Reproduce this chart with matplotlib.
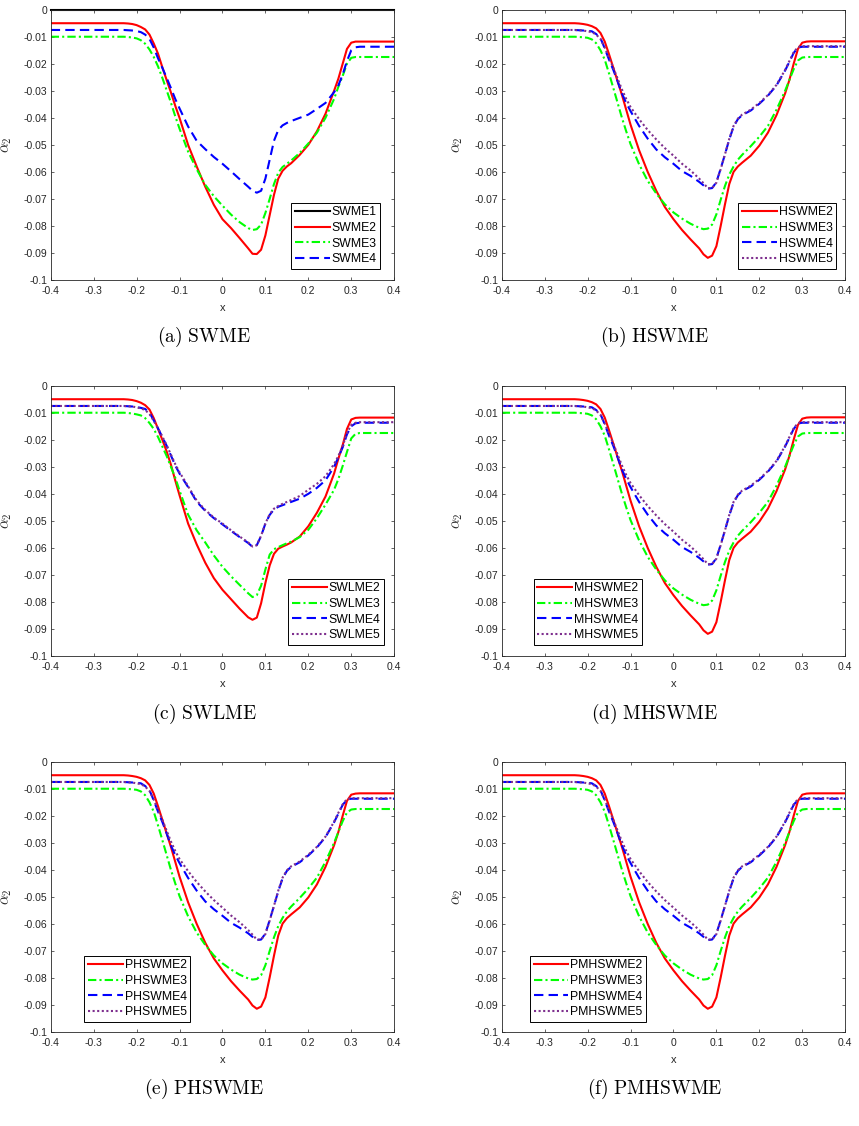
import numpy as np
import matplotlib
matplotlib.use('Agg')
import matplotlib.pyplot as plt

plt.rcParams['font.family'] = ['Liberation Sans', 'DejaVu Sans']
plt.rcParams['mathtext.fontset'] = 'cm'
plt.rcParams['axes.unicode_minus'] = False

xg = [-0.4, -0.25, -0.23, -0.22, -0.21, -0.2, -0.19, -0.18, -0.17, -0.16,
      -0.15, -0.14, -0.13, -0.12, -0.11, -0.1, -0.08, -0.06, -0.04, -0.02,
      0.0, 0.02, 0.04, 0.06, 0.07, 0.08, 0.09, 0.1, 0.11, 0.12,
      0.13, 0.14, 0.15, 0.16, 0.18, 0.2, 0.22, 0.24, 0.26, 0.27,
      0.28, 0.29, 0.3, 0.31, 0.32, 0.4]

# alpha_2 values below are in units of 1e-3
# (a) SWME
swme1_x = [-0.4, 0.4]
swme1 = [0.0, 0.0]
swme2 = [-5.0, -5.0, -5.0, -5.1, -5.3, -5.7, -6.4, -7.3, -9.2, -12.5,
         -16.3, -21.3, -26.0, -30.6, -35.5, -40.0, -50.0, -58.0, -65.5, -72.2,
         -77.5, -80.8, -84.5, -88.3, -90.3, -90.4, -88.8, -83.5, -76.0, -68.5,
         -62.5, -59.6, -58.0, -56.8, -53.7, -50.0, -45.0, -38.5, -30.0, -25.5,
         -20.0, -14.5, -12.2, -11.8, -11.8, -11.8]
swme3 = [-10.0, -10.0, -10.0, -10.1, -10.3, -10.6, -11.3, -12.6, -14.7, -17.5,
         -21.0, -25.2, -29.8, -34.4, -39.4, -44.0, -52.5, -59.0, -64.8, -69.0,
         -72.5, -75.8, -78.6, -80.8, -81.5, -81.2, -79.5, -75.2, -70.0, -64.5,
         -60.3, -58.2, -57.0, -55.8, -53.0, -49.5, -45.5, -40.0, -33.0, -28.5,
         -24.5, -20.0, -17.8, -17.5, -17.5, -17.5]
swme4 = [-7.5, -7.5, -7.5, -7.6, -7.7, -7.9, -8.3, -9.2, -10.8, -14.0,
         -18.0, -21.5, -25.2, -29.0, -33.0, -36.5, -43.2, -48.5, -51.6, -54.5,
         -57.0, -59.8, -62.7, -65.5, -67.0, -67.7, -67.0, -62.5, -55.5, -48.5,
         -44.5, -42.8, -41.9, -41.2, -40.0, -38.8, -36.7, -34.5, -30.5, -28.0,
         -24.0, -19.0, -15.0, -13.9, -13.7, -13.7]

# (b) HSWME
hswme2 = [-5.0, -5.0, -5.0, -5.1, -5.3, -5.6, -6.1, -6.9, -8.6, -11.8,
          -16.5, -21.5, -26.5, -31.5, -37.0, -42.5, -52.0, -60.0, -67.0, -73.0,
          -77.5, -81.5, -85.0, -88.3, -90.5, -91.8, -91.0, -87.5, -80.0, -72.0,
          -64.5, -60.0, -58.0, -56.6, -54.0, -50.3, -45.5, -39.0, -31.0, -26.0,
          -20.0, -14.5, -12.2, -11.8, -11.7, -11.7]
hswme3 = [-10.0, -10.0, -10.0, -10.1, -10.2, -10.4, -11.0, -12.4, -15.0, -18.5,
          -23.6, -29.0, -34.5, -40.0, -45.0, -49.7, -57.2, -63.3, -68.0, -72.0,
          -75.0, -77.3, -79.2, -80.7, -81.2, -81.0, -79.5, -75.7, -70.3, -65.2,
          -61.0, -58.0, -55.5, -53.7, -50.5, -47.0, -43.0, -37.0, -30.0, -26.0,
          -22.0, -18.8, -17.7, -17.5, -17.5, -17.5]
hswme4 = [-7.5, -7.5, -7.5, -7.6, -7.7, -7.8, -8.0, -9.0, -10.5, -14.3,
          -18.5, -22.3, -26.5, -31.0, -34.5, -37.5, -43.0, -47.7, -51.7, -54.6,
          -57.0, -59.7, -61.5, -63.7, -65.0, -66.2, -66.0, -63.8, -58.8, -53.5,
          -48.0, -43.3, -40.5, -39.0, -37.3, -34.8, -31.8, -28.0, -22.5, -19.3,
          -16.0, -14.0, -13.7, -13.7, -13.7, -13.7]
hswme5 = [-7.5, -7.5, -7.5, -7.6, -7.7, -8.0, -8.3, -9.2, -10.8, -14.0,
          -17.8, -21.5, -25.5, -29.5, -33.0, -36.0, -40.5, -44.5, -48.0, -51.2,
          -54.0, -57.0, -59.5, -62.5, -64.2, -66.0, -66.0, -64.0, -59.0, -53.5,
          -47.8, -43.0, -40.3, -38.8, -37.0, -34.5, -31.6, -27.8, -22.3, -19.0,
          -15.8, -13.8, -13.5, -13.5, -13.5, -13.5]

# (c) SWLME
swlme2 = [-5.0, -5.0, -5.0, -5.1, -5.3, -5.7, -6.3, -7.2, -8.8, -12.0,
          -16.0, -20.0, -24.3, -29.2, -35.0, -40.5, -51.0, -58.7, -65.5, -71.2,
          -75.5, -79.0, -82.5, -85.7, -86.6, -85.8, -80.5, -73.0, -66.5, -62.2,
          -60.3, -59.5, -58.8, -58.0, -55.8, -52.0, -47.0, -41.0, -32.5, -27.0,
          -22.0, -16.0, -12.5, -11.9, -11.8, -11.8]
swlme3 = [-10.0, -10.0, -10.0, -10.1, -10.3, -10.6, -11.0, -12.0, -13.8, -16.0,
          -19.0, -22.5, -26.0, -30.0, -34.0, -38.8, -47.7, -53.5, -58.0, -62.8,
          -67.0, -70.5, -73.7, -76.8, -78.2, -77.5, -74.0, -68.0, -62.5, -60.5,
          -59.7, -59.0, -58.3, -57.7, -56.0, -53.3, -49.0, -44.0, -38.5, -34.5,
          -29.7, -24.5, -19.5, -17.8, -17.5, -17.5]
swlme4 = [-7.5, -7.5, -7.5, -7.6, -7.7, -7.9, -8.2, -8.6, -10.0, -12.8,
          -15.8, -19.0, -22.2, -25.8, -29.5, -32.5, -37.5, -42.9, -46.3, -49.0,
          -51.3, -53.7, -56.0, -58.2, -59.6, -59.0, -55.6, -51.0, -47.8, -45.8,
          -44.8, -44.2, -43.6, -43.0, -41.8, -40.0, -37.8, -35.0, -30.0, -26.5,
          -22.8, -18.0, -15.0, -13.9, -13.7, -13.7]
swlme5 = [-7.5, -7.5, -7.5, -7.6, -7.7, -8.0, -8.4, -9.0, -10.5, -13.0,
          -15.8, -18.8, -22.0, -25.5, -29.0, -32.0, -37.2, -42.5, -46.0, -48.8,
          -51.0, -53.5, -55.8, -58.0, -59.5, -59.0, -55.5, -51.0, -47.5, -45.5,
          -44.5, -43.7, -43.0, -42.3, -40.8, -38.5, -36.3, -33.5, -29.0, -26.0,
          -22.3, -17.5, -14.5, -13.7, -13.5, -13.5]

# (d) MHSWME
mhswme2 = [-5.0, -5.0, -5.0, -5.1, -5.3, -5.6, -6.1, -6.9, -8.6, -11.8,
           -16.5, -21.5, -26.5, -31.5, -37.0, -42.5, -52.0, -60.0, -67.0, -73.0,
           -77.5, -81.5, -85.0, -88.3, -90.5, -91.8, -91.0, -87.5, -80.0, -72.0,
           -64.5, -60.0, -58.0, -56.6, -54.0, -50.3, -45.5, -39.0, -31.0, -26.0,
           -20.0, -14.5, -12.2, -11.8, -11.7, -11.7]
mhswme3 = [-10.0, -10.0, -10.0, -10.1, -10.2, -10.4, -11.0, -12.4, -15.0, -18.5,
           -23.6, -29.0, -34.5, -40.0, -45.0, -49.7, -57.2, -63.3, -68.0, -72.0,
           -75.0, -77.3, -79.2, -80.7, -81.2, -81.0, -79.5, -75.7, -70.3, -65.2,
           -61.0, -58.0, -55.5, -53.7, -50.5, -47.0, -43.0, -37.0, -30.0, -26.0,
           -22.0, -18.8, -17.7, -17.5, -17.5, -17.5]
mhswme4 = [-7.5, -7.5, -7.5, -7.6, -7.7, -7.8, -8.0, -9.0, -10.5, -14.3,
           -18.5, -22.3, -26.5, -31.0, -34.5, -37.5, -43.0, -47.7, -51.7, -54.6,
           -57.0, -59.7, -61.5, -63.7, -65.0, -66.2, -66.0, -63.8, -58.8, -53.5,
           -48.0, -43.3, -40.5, -39.0, -37.3, -34.8, -31.8, -28.0, -22.5, -19.3,
           -16.0, -14.0, -13.7, -13.7, -13.7, -13.7]
mhswme5 = [-7.5, -7.5, -7.5, -7.6, -7.7, -8.0, -8.3, -9.2, -10.8, -14.0,
           -17.8, -21.5, -25.5, -29.5, -33.0, -36.0, -40.5, -44.5, -48.0, -51.2,
           -54.0, -57.0, -59.5, -62.5, -64.2, -66.0, -66.0, -64.0, -59.0, -53.5,
           -47.8, -43.0, -40.3, -38.8, -37.0, -34.5, -31.6, -27.8, -22.3, -19.0,
           -15.8, -13.8, -13.5, -13.5, -13.5, -13.5]

# (e) PHSWME
phswme2 = [-5.0, -5.0, -5.0, -5.1, -5.3, -5.6, -6.1, -6.9, -8.6, -11.8,
           -16.5, -21.5, -26.5, -31.5, -37.0, -42.5, -52.0, -60.0, -67.0, -72.8,
           -77.2, -81.2, -84.7, -88.0, -90.2, -91.4, -90.6, -87.2, -79.8, -71.8,
           -64.3, -59.9, -57.9, -56.5, -53.9, -50.2, -45.4, -38.9, -30.9, -26.0,
           -20.0, -14.5, -12.2, -11.8, -11.7, -11.7]
phswme3 = [-10.0, -10.0, -10.0, -10.1, -10.2, -10.4, -11.0, -12.4, -15.0, -18.5,
           -23.6, -29.0, -34.5, -40.0, -45.0, -49.7, -57.2, -63.2, -67.8, -71.7,
           -74.6, -76.9, -78.8, -80.2, -80.6, -80.4, -79.0, -75.3, -70.0, -65.0,
           -60.8, -57.8, -55.4, -53.6, -50.4, -46.9, -42.9, -37.0, -30.0, -26.0,
           -22.0, -18.8, -17.7, -17.5, -17.5, -17.5]
phswme4 = [-7.5, -7.5, -7.5, -7.6, -7.7, -7.8, -8.0, -9.0, -10.5, -14.3,
           -18.5, -22.3, -26.5, -31.0, -34.5, -37.5, -43.0, -47.7, -51.7, -54.6,
           -57.0, -59.6, -61.4, -63.5, -64.8, -66.0, -65.8, -63.6, -58.6, -53.3,
           -47.9, -43.2, -40.4, -38.9, -37.2, -34.7, -31.7, -27.9, -22.4, -19.2,
           -16.0, -14.0, -13.7, -13.7, -13.7, -13.7]
phswme5 = [-7.5, -7.5, -7.5, -7.6, -7.7, -8.0, -8.3, -9.2, -10.8, -14.0,
           -17.8, -21.5, -25.5, -29.5, -33.0, -36.0, -40.5, -44.5, -48.0, -51.2,
           -54.0, -56.9, -59.4, -62.3, -64.0, -65.8, -65.8, -63.8, -58.8, -53.3,
           -47.7, -42.9, -40.2, -38.7, -36.9, -34.4, -31.5, -27.7, -22.2, -18.9,
           -15.8, -13.8, -13.5, -13.5, -13.5, -13.5]

# (f) PMHSWME
pmhswme2 = [-5.0, -5.0, -5.0, -5.1, -5.3, -5.6, -6.1, -6.9, -8.6, -11.8,
            -16.5, -21.5, -26.5, -31.5, -37.0, -42.5, -52.0, -60.0, -67.0, -72.8,
            -77.2, -81.2, -84.7, -88.0, -90.2, -91.4, -90.6, -87.2, -79.8, -71.8,
            -64.3, -59.9, -57.9, -56.5, -53.9, -50.2, -45.4, -38.9, -30.9, -26.0,
            -20.0, -14.5, -12.2, -11.8, -11.7, -11.7]
pmhswme3 = [-10.0, -10.0, -10.0, -10.1, -10.2, -10.4, -11.0, -12.4, -15.0, -18.5,
            -23.6, -29.0, -34.5, -40.0, -45.0, -49.7, -57.2, -63.2, -67.8, -71.7,
            -74.6, -76.9, -78.8, -80.2, -80.6, -80.4, -79.0, -75.3, -70.0, -65.0,
            -60.8, -57.8, -55.4, -53.6, -50.4, -46.9, -42.9, -37.0, -30.0, -26.0,
            -22.0, -18.8, -17.7, -17.5, -17.5, -17.5]
pmhswme4 = [-7.5, -7.5, -7.5, -7.6, -7.7, -7.8, -8.0, -9.0, -10.5, -14.3,
            -18.5, -22.3, -26.5, -31.0, -34.5, -37.5, -43.0, -47.7, -51.7, -54.6,
            -57.0, -59.6, -61.4, -63.5, -64.8, -66.0, -65.8, -63.6, -58.6, -53.3,
            -47.9, -43.2, -40.4, -38.9, -37.2, -34.7, -31.7, -27.9, -22.4, -19.2,
            -16.0, -14.0, -13.7, -13.7, -13.7, -13.7]
pmhswme5 = [-7.5, -7.5, -7.5, -7.6, -7.7, -8.0, -8.3, -9.2, -10.8, -14.0,
            -17.8, -21.5, -25.5, -29.5, -33.0, -36.0, -40.5, -44.5, -48.0, -51.2,
            -54.0, -56.9, -59.4, -62.3, -64.0, -65.8, -65.8, -63.8, -58.8, -53.3,
            -47.7, -42.9, -40.2, -38.7, -36.9, -34.4, -31.5, -27.7, -22.2, -18.9,
            -15.8, -13.8, -13.5, -13.5, -13.5, -13.5]

xticks = [-0.4, -0.3, -0.2, -0.1, 0.0, 0.1, 0.2, 0.3, 0.4]
xtick_labels = ['-0.4', '-0.3', '-0.2', '-0.1', '0', '0.1', '0.2', '0.3', '0.4']
yticks = [0.0, -0.01, -0.02, -0.03, -0.04, -0.05, -0.06, -0.07, -0.08, -0.09, -0.1]
ytick_labels = ['0', '-0.01', '-0.02', '-0.03', '-0.04', '-0.05', '-0.06',
                '-0.07', '-0.08', '-0.09', '-0.1']

# matlab-ish line styles: solid red, dash-dot green, dashed blue, dotted purple
styles = {
    'k': dict(color='black', ls='-'),
    'r': dict(color='red', ls='-'),
    'g': dict(color='#00ff00', dashes=(4, 1.5, 1, 1.5)),
    'b': dict(color='blue', dashes=(4.5, 2.5)),
    'm': dict(color='#7e2f8e', dashes=(1, 1.2)),
}
ink = '#262626'

W, H = 859.0, 1126.0
fig = plt.figure(figsize=(W / 100, H / 100), dpi=100)


def axes_at(left, top):
    # pixel box -> figure fraction
    return fig.add_axes([left / W, 1 - (top + 270.3) / H, 343.5 / W, 270.3 / H])


def draw_panel(left, top, caption, cap_x, cap_y, curves, loc, anchor):
    ax = axes_at(left, top)
    for xs, ys, st, lab in curves:
        ln, = ax.plot(xs, np.array(ys) * 1e-3, lw=1.5, label=lab, **styles[st])
        if st == 'k':
            ln.set_clip_on(False)
    ax.set_xlim(-0.4, 0.4)
    ax.set_ylim(-0.1, 0.0)
    ax.set_xticks(xticks)
    ax.set_xticklabels(xtick_labels)
    ax.set_yticks(yticks)
    ax.set_yticklabels(ytick_labels)
    ax.tick_params(direction='in', top=True, right=True, length=2.5, width=0.5,
                   labelsize=7.5, colors=ink)
    ax.tick_params(axis='y', pad=2.5)
    ax.tick_params(axis='x', pad=4.5)
    for s in ax.spines.values():
        s.set_linewidth(0.6)
        s.set_color(ink)
    ax.set_xlabel('x', fontsize=8, color=ink)
    ax.xaxis.set_label_coords(0.5, -0.085)
    ax.set_ylabel(r'$\alpha_2$', fontsize=11, color=ink)
    ax.yaxis.set_label_coords(-0.108, 0.5)
    leg = ax.legend(loc=loc, bbox_to_anchor=anchor, borderaxespad=0, fontsize=8.8,
                    frameon=True, fancybox=False, framealpha=1, edgecolor='black',
                    handlelength=2.85, handletextpad=0.15, labelspacing=0.3,
                    borderpad=0.3)
    leg.get_frame().set_linewidth(0.7)
    fig.text(cap_x / W, 1 - cap_y / H, caption, ha='center', va='center',
             fontsize=14)
    return ax


draw_panel(50.7, 9.7, r'$\mathrm{(a)\ SWME}$', 204, 337,
           [(swme1_x, swme1, 'k', 'SWME1'), (xg, swme2, 'r', 'SWME2'),
            (xg, swme3, 'g', 'SWME3'), (xg, swme4, 'b', 'SWME4')],
           'lower right', (0.959, 0.041))
draw_panel(501.7, 9.7, r'$\mathrm{(b)\ HSWME}$', 655, 337,
           [(xg, hswme2, 'r', 'HSWME2'), (xg, hswme3, 'g', 'HSWME3'),
            (xg, hswme4, 'b', 'HSWME4'), (xg, hswme5, 'm', 'HSWME5')],
           'lower right', (0.974, 0.041))
draw_panel(50.7, 385.7, r'$\mathrm{(c)\ SWLME}$', 204, 714,
           [(xg, swlme2, 'r', 'SWLME2'), (xg, swlme3, 'g', 'SWLME3'),
            (xg, swlme4, 'b', 'SWLME4'), (xg, swlme5, 'm', 'SWLME5')],
           'lower right', (0.971, 0.041))
draw_panel(501.7, 385.7, r'$\mathrm{(d)\ MHSWME}$', 655, 714,
           [(xg, mhswme2, 'r', 'MHSWME2'), (xg, mhswme3, 'g', 'MHSWME3'),
            (xg, mhswme4, 'b', 'MHSWME4'), (xg, mhswme5, 'm', 'MHSWME5')],
           'lower left', (0.093, 0.041))
draw_panel(50.7, 761.7, r'$\mathrm{(e)\ PHSWME}$', 204, 1089,
           [(xg, phswme2, 'r', 'PHSWME2'), (xg, phswme3, 'g', 'PHSWME3'),
            (xg, phswme4, 'b', 'PHSWME4'), (xg, phswme5, 'm', 'PHSWME5')],
           'lower left', (0.098, 0.037))
draw_panel(501.7, 761.7, r'$\mathrm{(f)\ PMHSWME}$', 655, 1089,
           [(xg, pmhswme2, 'r', 'PMHSWME2'), (xg, pmhswme3, 'g', 'PMHSWME3'),
            (xg, pmhswme4, 'b', 'PMHSWME4'), (xg, pmhswme5, 'm', 'PMHSWME5')],
           'lower left', (0.082, 0.037))

fig.savefig('out.png', dpi=100)
